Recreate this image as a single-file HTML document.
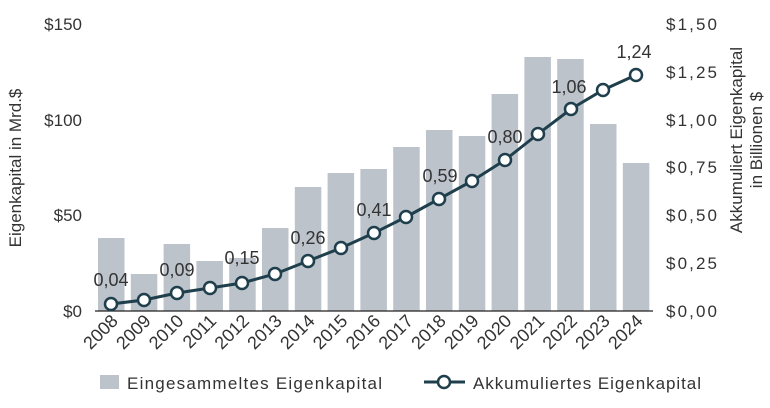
<!DOCTYPE html>
<html><head><meta charset="utf-8"><style>
body{margin:0;background:#fff}
svg{font-family:"Liberation Sans",sans-serif;}
</style></head><body>
<svg width="770" height="403" viewBox="0 0 770 403" xmlns="http://www.w3.org/2000/svg">
<g fill="#bcc3cb">
<rect x="98" y="238" width="26.5" height="73"/>
<rect x="130.8" y="274" width="26.5" height="37"/>
<rect x="163.6" y="244" width="26.5" height="67"/>
<rect x="196.4" y="261" width="26.5" height="50"/>
<rect x="229.2" y="258" width="26.5" height="53"/>
<rect x="262" y="228" width="26.5" height="83"/>
<rect x="294.8" y="187" width="26.5" height="124"/>
<rect x="327.6" y="173" width="26.5" height="138"/>
<rect x="360.4" y="169" width="26.5" height="142"/>
<rect x="393.2" y="147" width="26.5" height="164"/>
<rect x="426" y="130" width="26.5" height="181"/>
<rect x="458.8" y="136" width="26.5" height="175"/>
<rect x="491.6" y="94" width="26.5" height="217"/>
<rect x="524.4" y="57" width="26.5" height="254"/>
<rect x="557.2" y="59" width="26.5" height="252"/>
<rect x="590" y="124" width="26.5" height="187"/>
<rect x="622.8" y="163" width="26.5" height="148"/>
</g>
<line x1="95" y1="311" x2="653" y2="311" stroke="#222" stroke-width="1.3"/>
<g fill="#333" font-size="17">
<g text-anchor="end">
<text x="82" y="30">$150</text><text x="82" y="126">$100</text><text x="82" y="221">$50</text><text x="82" y="317">$0</text>
</g>
<g textLength="50">
<text x="666" y="30" textLength="51">$1,50</text><text x="666" y="78" textLength="51">$1,25</text><text x="666" y="126" textLength="51">$1,00</text><text x="666" y="173" textLength="51">$0,75</text><text x="666" y="221" textLength="51">$0,50</text><text x="666" y="269" textLength="51">$0,25</text><text x="666" y="317" textLength="51">$0,00</text>
</g>
<text transform="translate(21,168) rotate(-90)" text-anchor="middle">Eigenkapital in Mrd.$</text>
<text transform="translate(742,140) rotate(-90)" text-anchor="middle">Akkumuliert Eigenkapital</text>
<text transform="translate(762,140) rotate(-90)" text-anchor="middle">in Billionen $</text>
<g text-anchor="end" font-size="18">
<text transform="translate(119,322) rotate(-45)">2008</text>
<text transform="translate(151.8,322) rotate(-45)">2009</text>
<text transform="translate(184.6,322) rotate(-45)">2010</text>
<text transform="translate(217.4,322) rotate(-45)">2011</text>
<text transform="translate(250.2,322) rotate(-45)">2012</text>
<text transform="translate(283,322) rotate(-45)">2013</text>
<text transform="translate(315.8,322) rotate(-45)">2014</text>
<text transform="translate(348.6,322) rotate(-45)">2015</text>
<text transform="translate(381.4,322) rotate(-45)">2016</text>
<text transform="translate(414.2,322) rotate(-45)">2017</text>
<text transform="translate(447,322) rotate(-45)">2018</text>
<text transform="translate(479.8,322) rotate(-45)">2019</text>
<text transform="translate(512.6,322) rotate(-45)">2020</text>
<text transform="translate(545.4,322) rotate(-45)">2021</text>
<text transform="translate(578.2,322) rotate(-45)">2022</text>
<text transform="translate(611,322) rotate(-45)">2023</text>
<text transform="translate(643.8,322) rotate(-45)">2024</text>
</g>
<g text-anchor="middle" font-size="18">
<text x="111" y="286">0,04</text>
<text x="177" y="276">0,09</text>
<text x="242" y="264">0,15</text>
<text x="308" y="244">0,26</text>
<text x="374" y="216">0,41</text>
<text x="440" y="182">0,59</text>
<text x="505" y="143">0,80</text>
<text x="569" y="93">1,06</text>
<text x="634" y="58">1,24</text>
</g>
</g>
<polyline fill="none" stroke="#1f3f4d" stroke-width="3" points="111,304 144,300 177,293 210,288 242,283 275,274 308,261 341,248 374,233 406,217 439,199 472,181 505,160 538,134 571,109 603,90 636,75"/>
<g fill="#fff" stroke="#1f3f4d" stroke-width="2.5">
<circle cx="111" cy="304" r="6"/><circle cx="144" cy="300" r="6"/><circle cx="177" cy="293" r="6"/><circle cx="210" cy="288" r="6"/><circle cx="242" cy="283" r="6"/><circle cx="275" cy="274" r="6"/><circle cx="308" cy="261" r="6"/><circle cx="341" cy="248" r="6"/><circle cx="374" cy="233" r="6"/><circle cx="406" cy="217" r="6"/><circle cx="439" cy="199" r="6"/><circle cx="472" cy="181" r="6"/><circle cx="505" cy="160" r="6"/><circle cx="538" cy="134" r="6"/><circle cx="571" cy="109" r="6"/><circle cx="603" cy="90" r="6"/><circle cx="636" cy="75" r="6"/>
</g>
<rect x="100" y="375" width="19" height="14" fill="#bcc3cb"/>
<text x="127" y="389" font-size="17" fill="#333" textLength="255">Eingesammeltes Eigenkapital</text>
<line x1="424" y1="382" x2="465" y2="382" stroke="#1f3f4d" stroke-width="3"/>
<circle cx="444" cy="382" r="6" fill="#fff" stroke="#1f3f4d" stroke-width="2.5"/>
<text x="473" y="389" font-size="17" fill="#333" textLength="228">Akkumuliertes Eigenkapital</text>
</svg>
</body></html>
